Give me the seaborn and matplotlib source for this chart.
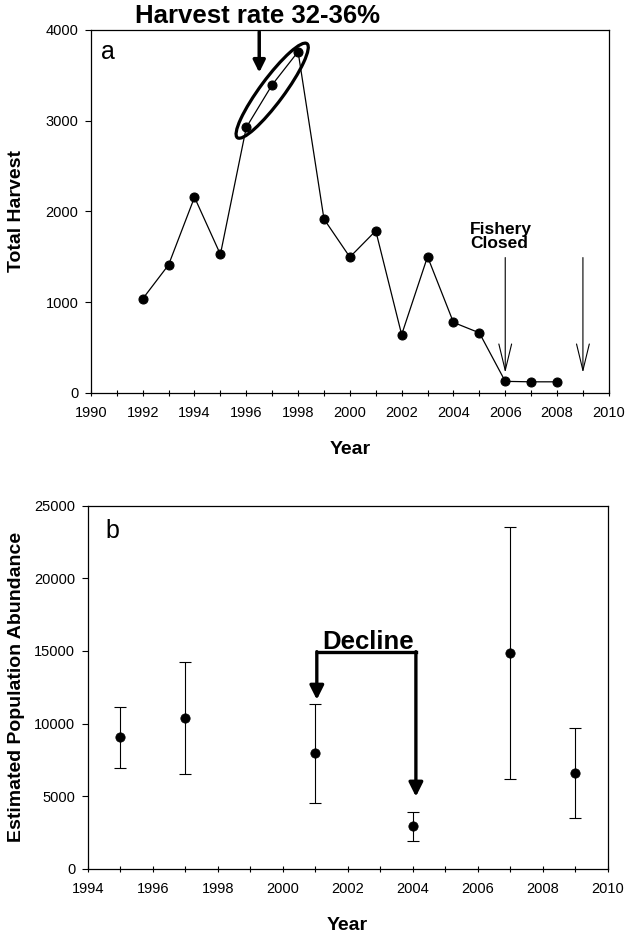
import matplotlib
matplotlib.use("Agg")
import matplotlib.pyplot as plt
import seaborn as sns
import pandas as pd
from matplotlib.patches import Ellipse
from matplotlib.transforms import ScaledTranslation
from matplotlib.ticker import MultipleLocator

# panel a: total harvest per year
harvest_years = [1992, 1993, 1994, 1995, 1996, 1997, 1998, 1999, 2000,
                 2001, 2002, 2003, 2004, 2005, 2006, 2007, 2008]
harvest = [1035, 1410, 2155, 1525, 2925, 3395, 3760, 1915, 1495,
           1785, 640, 1500, 775, 660, 125, 120, 120]

# panel b: estimated abundance with confidence limits
abund_years = [1995, 1997, 2001, 2004, 2007, 2009]
abundance = [9040, 10390, 7940, 2910, 14890, 6610]
abund_low = [6900, 6540, 4540, 1930, 6190, 3510]
abund_high = [11120, 14240, 11330, 3900, 23530, 9720]

closure_years = [2006, 2009]

sns.set_style("ticks")
plt.rcParams["font.family"] = ["Liberation Sans", "DejaVu Sans"]
plt.rcParams.update({"text.color": "black", "axes.labelcolor": "black",
                     "xtick.color": "black", "ytick.color": "black"})

fig = plt.figure(figsize=(6.27, 9.35), dpi=100)
ax1 = fig.add_axes([0.145, 0.580, 0.826, 0.388])
ax2 = fig.add_axes([0.140, 0.071, 0.829, 0.388])

dfa = pd.DataFrame({"Year": harvest_years, "Harvest": harvest})
dfb = pd.DataFrame({"Year": abund_years, "N": abundance, "lo": abund_low, "hi": abund_high})

# ---- panel a
sns.lineplot(data=dfa, x="Year", y="Harvest", ax=ax1, color="black", lw=0.9,
             marker="o", markersize=6.5, markeredgecolor="black", markerfacecolor="black")
ax1.set_xlim(1990, 2010); ax1.set_ylim(0, 4000)
ax1.xaxis.set_major_locator(MultipleLocator(2)); ax1.xaxis.set_minor_locator(MultipleLocator(1))
ax1.yaxis.set_major_locator(MultipleLocator(1000))
ax1.set_xlabel("Year", fontsize=14, fontweight="bold", labelpad=15)
ax1.set_ylabel("Total Harvest", fontsize=14, fontweight="bold")
ax1.yaxis.set_label_coords(-0.127, 0.5)
ax1.text(1990.65, 3760, "a", fontsize=18, va="center", ha="center")

ax1.text(1996.45, 4077, "Harvest rate 32-36%", fontsize=18.5, fontweight="bold",
         ha="center", va="baseline", clip_on=False)
ax1.annotate("", xy=(1996.5, 3530), xytext=(1996.5, 3980), annotation_clip=False,
             arrowprops=dict(arrowstyle="-|>,head_length=0.6,head_width=0.3", mutation_scale=12,
                             lw=2.5, color="black", shrinkA=0, shrinkB=0))
ell_tr = fig.dpi_scale_trans + ScaledTranslation(1997.0, 3330, ax1.transData)
ax1.add_patch(Ellipse((0, 0), 1.17, 0.24, angle=53.5, transform=ell_tr,
                      fill=False, lw=2.3, edgecolor="black"))

ax1.text(2004.63, 1720, "Fishery\nClosed", fontsize=12.5, fontweight="bold",
         ha="left", va="center", multialignment="left", linespacing=0.95)
for yr in closure_years:
    ax1.annotate("", xy=(yr, 220), xytext=(yr, 1490),
                 arrowprops=dict(arrowstyle="->,head_length=0.95,head_width=0.23",
                                 mutation_scale=20, lw=0.8, color="black", shrinkA=0, shrinkB=0))

# ---- panel b
ax2.errorbar(dfb["Year"], dfb["N"], yerr=[dfb["N"] - dfb["lo"], dfb["hi"] - dfb["N"]],
             fmt="none", ecolor="black", elinewidth=0.8, capsize=4.5, capthick=0.8)
sns.scatterplot(data=dfb, x="Year", y="N", ax=ax2, color="black", s=45,
                edgecolor="black", zorder=3)
ax2.set_xlim(1994, 2010); ax2.set_ylim(0, 25000)
ax2.xaxis.set_major_locator(MultipleLocator(2)); ax2.xaxis.set_minor_locator(MultipleLocator(1))
ax2.yaxis.set_major_locator(MultipleLocator(5000))
ax2.set_xlabel("Year", fontsize=14, fontweight="bold", labelpad=15)
ax2.set_ylabel("Estimated Population Abundance", fontsize=14, fontweight="bold")
ax2.yaxis.set_label_coords(-0.121, 0.5)
ax2.text(1994.75, 23300, "b", fontsize=18, va="center", ha="center")

ax2.text(2002.62, 15150, "Decline", fontsize=18.5, fontweight="bold", ha="center", va="baseline")
ax2.plot([2001.05, 2004.1], [14950, 14950], color="black", lw=2.4, solid_capstyle="projecting")
for x0, tip in [(2001.05, 11640), (2004.1, 4960)]:
    ax2.annotate("", xy=(x0, tip), xytext=(x0, 14950),
                 arrowprops=dict(arrowstyle="-|>,head_length=0.7,head_width=0.35", mutation_scale=12,
                                 lw=2.4, color="black", shrinkA=0, shrinkB=0))

for ax in (ax1, ax2):
    for s in ax.spines.values():
        s.set_linewidth(0.9); s.set_color("black")
    ax.tick_params(axis="x", which="major", direction="inout", length=5, width=0.8,
                   labelsize=10.5, pad=7)
    ax.tick_params(axis="x", which="minor", direction="inout", length=4, width=0.8)
    ax.tick_params(axis="y", which="major", direction="out", length=4, width=0.8,
                   labelsize=10.5, pad=5)

fig.savefig("out.png", dpi=100)
